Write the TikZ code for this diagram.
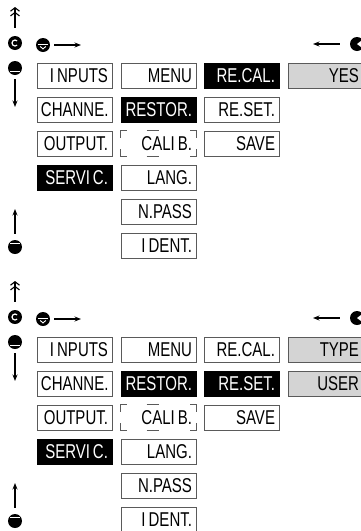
\documentclass[tikz,border=0pt]{standalone}
\usepackage{fontspec}
\newfontfamily\lcdfont[FakeStretch=0.75]{Liberation Sans}
\usetikzlibrary{arrows.meta}
\definecolor{boxgray}{RGB}{90,90,90}
\definecolor{optfill}{RGB}{212,212,212}

\begin{document}
\begin{tikzpicture}[x=1pt,y=-1pt,
  menubox/.style={draw=boxgray,line width=0.8pt,minimum width=75pt,minimum height=25pt,inner xsep=4pt,inner ysep=0pt,text width=67pt,align=right,text height=14pt,text depth=0pt,font={\lcdfont\fontsize{20}{20}\selectfont}},
  selbox/.style={menubox,fill=black,draw=black,text=white},
  optbox/.style={menubox,fill=optfill},
  blinkbox/.style={menubox,draw=none},
  blinkline/.style={draw=boxgray,line width=0.8pt},
  key/.style={circle,fill=black,inner sep=0pt,minimum size=14pt},
  keymark/.style={white,line width=0.9pt},
  arr/.style={line width=1.2pt,-{Stealth[length=6.5pt,width=5pt]}},
  dblarr/.style={line width=1.1pt,-{Straight Barb[length=3.5pt,width=9pt]Straight Barb[length=3.5pt,width=9pt]}}]
\useasboundingbox (0,0) rectangle (361,531);
\begin{scope}
\node[key] (cA) at (15,43) {};
\draw[keymark,line width=1.2pt] (cA) ++(45:3pt) arc (45:315:3pt);
\node[key] (dnA) at (43,45) {};
\draw[keymark] ([shift={(-5,-0.8)}]dnA.center) -- ([shift={(5,-0.8)}]dnA.center);
\draw[keymark] ([shift={(-2.8,1.4)}]dnA.center) -- ([shift={(0,4)}]dnA.center) -- ([shift={(2.8,1.4)}]dnA.center);
\node[key] (uA) at (15,68) {};
\draw[keymark] ([shift={(-5,3.8)}]uA.center) -- ([shift={(5,3.8)}]uA.center);
\node[key] (dkA) at (15,247) {};
\draw[keymark] ([shift={(-5,-3.6)}]dkA.center) -- ([shift={(5,-3.6)}]dkA.center);
\node[key] (rkA) at (357,44) {};
\fill[white] (rkA.center) -- ([shift={(4.5,-3.4)}]rkA.center) -- ([shift={(4.5,3.4)}]rkA.center) -- cycle;
\coordinate (topA) at (15,7);
\coordinate (rightA) at (81,45);
\coordinate (downA) at (15,107);
\coordinate (upA) at (15,209);
\coordinate (leftA) at (313,44);
\draw[dblarr,shorten <=8pt] (cA.north) -- (topA);
\draw[arr,shorten <=4pt] (dnA.east) -- (rightA);
\draw[arr,shorten <=4pt] (uA.south) -- (downA);
\draw[arr,shorten <=6pt] (dkA.north) -- (upA);
\draw[arr,shorten <=10pt] (rkA.west) -- (leftA);
\node[menubox] (inputsA) at (74.5,75.5) {I\hspace{3pt}NPUTS};
\node[menubox] (menuA) at (158.5,75.5) {MENU};
\node[selbox] (recalA) at (241.5,75.5) {RE.CAL.};
\node[optbox] (yesA) at (325.5,75.5) {YES};
\node[menubox] (channeA) at (74.5,109.5) {CHANNE.};
\node[selbox] (restorA) at (158.5,109.5) {RESTOR.};
\node[menubox] (resetA) at (241.5,109.5) {RE.SET.};
\node[menubox] (outputA) at (74.5,143.5) {OUTPUT.};
\node[blinkbox] (calibA) at (158.5,143.5) {CALI\hspace{3pt}B.};
\node[menubox] (saveA) at (241.5,143.5) {SAVE};
\node[selbox] (servicA) at (74.5,177.5) {SERVI\hspace{3pt}C.};
\node[menubox] (langA) at (158.5,177.5) {LANG.};
\node[menubox] (npassA) at (158.5,211.5) {N.PASS};
\node[menubox] (identA) at (158.5,245.5) {I\hspace{3pt}DENT.};
\draw[blinkline] ([xshift=6pt]calibA.north west) -- (calibA.north west) -- ([yshift=-7pt]calibA.north west);
\draw[blinkline] ([xshift=6pt]calibA.south west) -- (calibA.south west) -- ([yshift=7pt]calibA.south west);
\draw[blinkline] ([xshift=-6pt]calibA.north east) -- (calibA.north east) -- ([yshift=-7pt]calibA.north east);
\draw[blinkline] ([xshift=-6pt]calibA.south east) -- (calibA.south east) -- ([yshift=7pt]calibA.south east);
\draw[blinkline] ([xshift=26pt]calibA.north west) -- ([xshift=38pt]calibA.north west);
\draw[blinkline] ([xshift=26pt]calibA.south west) -- ([xshift=38pt]calibA.south west);
\end{scope}
\begin{scope}[shift={(0,274)}]
\node[key] (cB) at (15,43) {};
\draw[keymark,line width=1.2pt] (cB) ++(45:3pt) arc (45:315:3pt);
\node[key] (dnB) at (43,45) {};
\draw[keymark] ([shift={(-5,-0.8)}]dnB.center) -- ([shift={(5,-0.8)}]dnB.center);
\draw[keymark] ([shift={(-2.8,1.4)}]dnB.center) -- ([shift={(0,4)}]dnB.center) -- ([shift={(2.8,1.4)}]dnB.center);
\node[key] (uB) at (15,68) {};
\draw[keymark] ([shift={(-5,3.8)}]uB.center) -- ([shift={(5,3.8)}]uB.center);
\node[key] (dkB) at (15,247) {};
\draw[keymark] ([shift={(-5,-3.6)}]dkB.center) -- ([shift={(5,-3.6)}]dkB.center);
\node[key] (rkB) at (357,44) {};
\fill[white] (rkB.center) -- ([shift={(4.5,-3.4)}]rkB.center) -- ([shift={(4.5,3.4)}]rkB.center) -- cycle;
\coordinate (topB) at (15,7);
\coordinate (rightB) at (81,45);
\coordinate (downB) at (15,107);
\coordinate (upB) at (15,209);
\coordinate (leftB) at (313,44);
\draw[dblarr,shorten <=8pt] (cB.north) -- (topB);
\draw[arr,shorten <=4pt] (dnB.east) -- (rightB);
\draw[arr,shorten <=4pt] (uB.south) -- (downB);
\draw[arr,shorten <=6pt] (dkB.north) -- (upB);
\draw[arr,shorten <=10pt] (rkB.west) -- (leftB);
\node[menubox] (inputsB) at (74.5,75.5) {I\hspace{3pt}NPUTS};
\node[menubox] (menuB) at (158.5,75.5) {MENU};
\node[menubox] (recalB) at (241.5,75.5) {RE.CAL.};
\node[optbox] (typeB) at (325.5,75.5) {TYPE};
\node[menubox] (channeB) at (74.5,109.5) {CHANNE.};
\node[selbox] (restorB) at (158.5,109.5) {RESTOR.};
\node[selbox] (resetB) at (241.5,109.5) {RE.SET.};
\node[optbox] (userB) at (325.5,109.5) {USER};
\node[menubox] (outputB) at (74.5,143.5) {OUTPUT.};
\node[blinkbox] (calibB) at (158.5,143.5) {CALI\hspace{3pt}B.};
\node[menubox] (saveB) at (241.5,143.5) {SAVE};
\node[selbox] (servicB) at (74.5,177.5) {SERVI\hspace{3pt}C.};
\node[menubox] (langB) at (158.5,177.5) {LANG.};
\node[menubox] (npassB) at (158.5,211.5) {N.PASS};
\node[menubox] (identB) at (158.5,245.5) {I\hspace{3pt}DENT.};
\draw[blinkline] ([xshift=6pt]calibB.north west) -- (calibB.north west) -- ([yshift=-7pt]calibB.north west);
\draw[blinkline] ([xshift=6pt]calibB.south west) -- (calibB.south west) -- ([yshift=7pt]calibB.south west);
\draw[blinkline] ([xshift=-6pt]calibB.north east) -- (calibB.north east) -- ([yshift=-7pt]calibB.north east);
\draw[blinkline] ([xshift=-6pt]calibB.south east) -- (calibB.south east) -- ([yshift=7pt]calibB.south east);
\draw[blinkline] ([xshift=26pt]calibB.north west) -- ([xshift=38pt]calibB.north west);
\draw[blinkline] ([xshift=26pt]calibB.south west) -- ([xshift=38pt]calibB.south west);
\end{scope}
\end{tikzpicture}
\end{document}
